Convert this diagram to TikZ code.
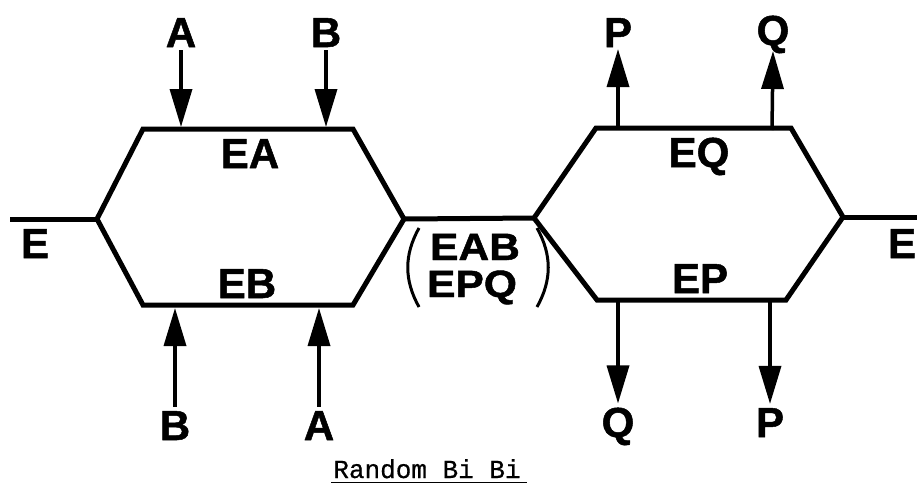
\documentclass[tikz,border=0pt]{standalone}
\usepackage{fontspec}
\setmainfont{Liberation Sans}[BoldFeatures={FakeBold=1.2}]
\newfontfamily\capfont{Liberation Mono}[FakeBold=0.6]
\usetikzlibrary{arrows.meta}
\begin{document}
\begin{tikzpicture}[x=1pt,y=-1pt,
  hexline/.style={line width=5pt,line join=miter},
  flow/.style={line width=3.5pt,-{Triangle[length=38pt,width=22pt]}},
  lbl/.style={font=\fontsize{42}{42}\selectfont\bfseries,inner sep=0pt,anchor=base},
  midlbl/.style={font=\fontsize{38}{38}\selectfont\bfseries,inner sep=0pt,xscale=1.12,anchor=base},
  paren/.style={line width=3pt}]
\useasboundingbox (0,0) rectangle (917,491);
% left hexagon
\coordinate (L1) at (97,219);
\coordinate (L2) at (143,129);
\coordinate (L3) at (353,129);
\coordinate (L4) at (404,219);
\coordinate (L5) at (353,305);
\coordinate (L6) at (143,305);
% right hexagon
\coordinate (R1) at (534,218);
\coordinate (R2) at (596,128);
\coordinate (R3) at (791,128);
\coordinate (R4) at (843,217);
\coordinate (R5) at (786,300);
\coordinate (R6) at (597,300);
\coordinate (Lend) at (10,219);
\coordinate (Rend) at (917,217);
\draw[hexline] (L1) -- (L2) -- (L3) -- (L4) -- (L5) -- (L6) -- cycle;
\draw[hexline] (R1) -- (R2) -- (R3) -- (R4) -- (R5) -- (R6) -- cycle;
\draw[hexline] (Lend) -- (L1);
\draw[hexline] (L4) -- (R1);
\draw[hexline] (R4) -- (Rend);
% inner labels
\node[lbl] (EA) at (250,168) {EA};
\node[lbl] (EB) at (247,298) {EB};
\node[lbl] (EQ) at (699,167) {EQ};
\node[lbl] (EP) at (700,293) {EP};
\node[lbl] (El) at (35,258) {E};
\node[lbl] (Er) at (902,258) {E};
\node[midlbl] (EAB) at (475,260) {EAB};
\node[midlbl] (EPQ) at (472,297) {EPQ};
\draw[paren] (419,228) .. controls (404,255) and (404,280) .. (419,307);
\draw[paren] (537,228) .. controls (552,255) and (552,280) .. (537,307);
% substrate / product labels
\node[lbl] (A1) at (181,47) {A};
\node[lbl] (B1) at (326,47) {B};
\node[lbl] (B2) at (175,440) {B};
\node[lbl] (A2) at (319,440) {A};
\node[lbl] (P1) at (618,47) {P};
\node[lbl] (Q1) at (773,45) {Q};
\node[lbl] (Q2) at (618,437) {Q};
\node[lbl] (P2) at (770,437) {P};
% arrow end points on hexagons
\coordinate (a1) at (181,127);
\coordinate (b1) at (326,127);
\coordinate (b2) at (175,308);
\coordinate (a2) at (319,308);
\coordinate (p1) at (618,130);
\coordinate (q1) at (772,130);
\coordinate (q2) at (618,298);
\coordinate (p2) at (770,298);
\draw[flow] ([yshift=-3pt]A1.base) -- (a1);
\draw[flow] ([yshift=-3pt]B1.base) -- (b1);
\draw[flow] ([yshift=4pt]B2.north) -- (b2);
\draw[flow] ([yshift=4pt]A2.north) -- (a2);
\draw[flow] (p1) -- ([yshift=-2pt]P1.base);
\draw[flow] (q1) -- ([yshift=-6pt]Q1.base);
\draw[flow] (q2) -- ([yshift=4pt]Q2.north);
\draw[flow] (p2) -- ([yshift=4pt]P2.north);
% caption
\node[font=\capfont\fontsize{26}{26}\selectfont,inner sep=0pt,anchor=base] (cap) at (427,478) {Random Bi Bi};
\draw[line width=1.5pt] (cap.south west) ++(-2,4) -- ++(196,0);
\end{tikzpicture}
\end{document}
